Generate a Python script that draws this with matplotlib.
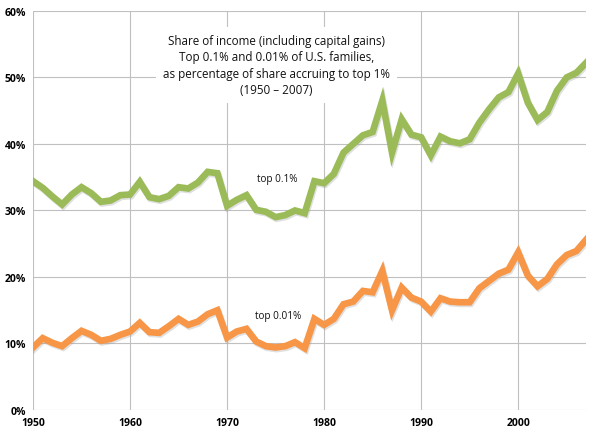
import numpy as np
import matplotlib
matplotlib.use("Agg")
import matplotlib.pyplot as plt
import matplotlib.patheffects as pe
from matplotlib.ticker import FuncFormatter

years = list(range(1950, 2008))

# top 0.1% share as % of top 1% share
top_01 = [34.4, 33.4, 32.1, 30.9, 32.4, 33.5, 32.6, 31.3, 31.5, 32.3,
          32.4, 34.3, 32.0, 31.7, 32.2, 33.5, 33.3, 34.2, 35.8, 35.6,
          30.7, 31.6, 32.3, 30.1, 29.8, 29.0, 29.3, 30.0, 29.6, 34.4,
          34.1, 35.5, 38.7, 40.0, 41.3, 41.8, 46.5, 38.7, 43.7, 41.4,
          41.0, 38.3, 41.1, 40.4, 40.1, 40.7, 43.2, 45.2, 47.0, 47.8,
          50.6, 46.2, 43.6, 44.8, 48.0, 50.0, 50.7, 52.2]

# top 0.01% share as % of top 1% share
top_001 = [9.4, 10.8, 10.1, 9.6, 10.8, 11.9, 11.3, 10.4, 10.7, 11.3,
           11.8, 13.1, 11.7, 11.6, 12.6, 13.7, 12.8, 13.3, 14.4, 15.0,
           10.9, 11.8, 12.2, 10.3, 9.6, 9.4, 9.6, 10.2, 9.3, 13.7,
           12.8, 13.7, 15.9, 16.3, 17.9, 17.7, 20.9, 15.0, 18.4, 16.9,
           16.3, 14.8, 16.8, 16.3, 16.2, 16.2, 18.3, 19.4, 20.5, 21.1,
           23.7, 20.2, 18.6, 19.7, 21.9, 23.3, 23.9, 25.6]

title_lines = ["Share of income (including capital gains)",
               "Top 0.1% and 0.01% of U.S. families,",
               "as percentage of share accruing to top 1%",
               "(1950 \u2013 2007)"]

plt.rcParams['font.family'] = ['Open Sans', 'DejaVu Sans']

fig = plt.figure(figsize=(5.95, 4.39), dpi=100)
ax = fig.add_axes([0.0555, 0.0638, 0.9295, 0.909])

shadow = [pe.SimpleLineShadow(offset=(0.8, -1.2), shadow_color='#999999', alpha=0.3),
          pe.Normal()]
ax.plot(years, top_01, color='#9BBB59', lw=4.8, solid_joinstyle='miter',
        path_effects=shadow, zorder=3)
ax.plot(years, top_001, color='#F79646', lw=4.8, solid_joinstyle='miter',
        path_effects=shadow, zorder=3)

ax.set_xlim(1950, 2007)
ax.set_ylim(0, 60)
ax.set_xticks(range(1950, 2001, 10))
ax.set_yticks(range(0, 61, 10))
ax.yaxis.set_major_formatter(FuncFormatter(lambda v, p: "%d%%" % v))
ax.grid(True, color='#C0C0C0', lw=0.8)
ax.set_axisbelow(True)
for s in ax.spines.values():
    s.set_visible(False)
ax.tick_params(length=0, labelsize=7.5, pad=5, colors='#000000')
for lab in ax.get_xticklabels() + ax.get_yticklabels():
    lab.set_fontweight('bold')

ax.text(1975.1, 56.6, "\n".join(title_lines), ha='center', va='top',
        fontsize=8.4, color='#111111', linespacing=1.35, zorder=2,
        bbox=dict(facecolor='white', edgecolor='none', pad=5))

ax.text(1975.2, 34.8, "top 0.1%", ha='center', va='center',
        fontsize=7.2, color='#111111', zorder=4)
ax.text(1975.3, 14.2, "top 0.01%", ha='center', va='center',
        fontsize=7.2, color='#111111', zorder=4)

fig.savefig("out.png", dpi=100)
